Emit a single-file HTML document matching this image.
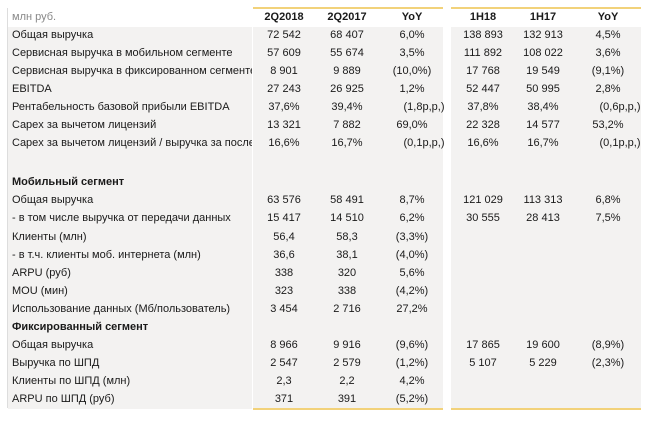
<!DOCTYPE html>
<html><head><meta charset="utf-8"><style>
body{margin:0;width:649px;height:421px;background:#fff;font-family:"Liberation Sans",Arial,sans-serif;font-size:11px;color:#1a1a1a;position:relative;overflow:hidden}
.bg{position:absolute;background:#f3f2f1}
.r{position:absolute;left:0;width:649px;height:18px;line-height:18px}
.r span{position:absolute;top:0;white-space:nowrap}
.l{left:12px;width:240px;overflow:hidden}
.c{text-align:center;width:60px}
.h{font-weight:bold}
.y{position:absolute;height:2px;background:#f2d27a}
</style></head><body>
<div style="position:absolute;left:7px;top:8px;width:1px;height:400px;background:#ddd"></div>
<div class="bg" style="left:8px;top:27px;width:244px;height:382px"></div>
<div class="bg" style="left:253px;top:27px;width:190px;height:382px"></div>
<div class="bg" style="left:451px;top:27px;width:190px;height:382px"></div>
<div class="y" style="left:253px;top:7px;width:190px"></div>
<div class="y" style="left:451px;top:7px;width:190px"></div>
<div class="y" style="left:253px;top:408px;width:190px"></div>
<div class="y" style="left:451px;top:408px;width:190px"></div>
<div id="t"></div>
<script>
var rows=[
[17,"млн руб.","2Q2018","2Q2017","YoY","1H18","1H17","YoY","hd"],
[35,"Общая выручка","72 542","68 407","6,0%","138 893","132 913","4,5%"],
[53,"Сервисная выручка в мобильном сегменте","57 609","55 674","3,5%","111 892","108 022","3,6%"],
[71,"Сервисная выручка в фиксированном сегменте","8 901","9 889","(10,0%)","17 768","19 549","(9,1%)"],
[89,"EBITDA","27 243","26 925","1,2%","52 447","50 995","2,8%"],
[107,"Рентабельность базовой прибыли EBITDA","37,6%","39,4%","(1,8р,р,)","37,8%","38,4%","(0,6р,р,)"],
[125,"Capex за вычетом лицензий","13 321","7 882","69,0%","22 328","14 577","53,2%"],
[143,"Capex за вычетом лицензий / выручка за последние","16,6%","16,7%","(0,1р,р,)","16,6%","16,7%","(0,1р,р,)"],
[182,"Мобильный сегмент","","","","","","","b"],
[200,"Общая выручка","63 576","58 491","8,7%","121 029","113 313","6,8%"],
[218,"- в том числе выручка от передачи данных","15 417","14 510","6,2%","30 555","28 413","7,5%"],
[237,"Клиенты (млн)","56,4","58,3","(3,3%)","","",""],
[255,"- в т.ч. клиенты моб. интернета (млн)","36,6","38,1","(4,0%)","","",""],
[273,"ARPU (руб)","338","320","5,6%","","",""],
[291,"MOU (мин)","323","338","(4,2%)","","",""],
[309,"Использование данных (Мб/пользователь)","3 454","2 716","27,2%","","",""],
[327,"Фиксированный сегмент","","","","","","","b"],
[345,"Общая выручка","8 966","9 916","(9,6%)","17 865","19 600","(8,9%)"],
[363,"Выручка по ШПД","2 547","2 579","(1,2%)","5 107","5 229","(2,3%)"],
[381,"Клиенты по ШПД (млн)","2,3","2,2","4,2%","","",""],
[399,"ARPU по ШПД (руб)","371","391","(5,2%)","","",""]];
var xs=[254,317,382,453,513,578],h="";
rows.forEach(function(r){
var hd=r[8]=="hd";
h+='<div class="r" style="top:'+(r[0]-9)+'px">';
h+='<span class="l" style="'+(hd?'color:#888':'')+(r[8]=="b"?';font-weight:bold':'')+'">'+r[1]+'</span>';
for(var i=0;i<6;i++){var txt=r[i+2];var ml=(i==2||i==5)&&txt.indexOf("р,р,")>0?' style="left:'+(xs[i]+12)+'px"':' style="left:'+xs[i]+'px"';
h+='<span class="c'+(hd?' h':'')+'"'+ml+'>'+txt+'</span>';}
h+='</div>';});
document.getElementById("t").innerHTML=h;
</script>
</body></html>
